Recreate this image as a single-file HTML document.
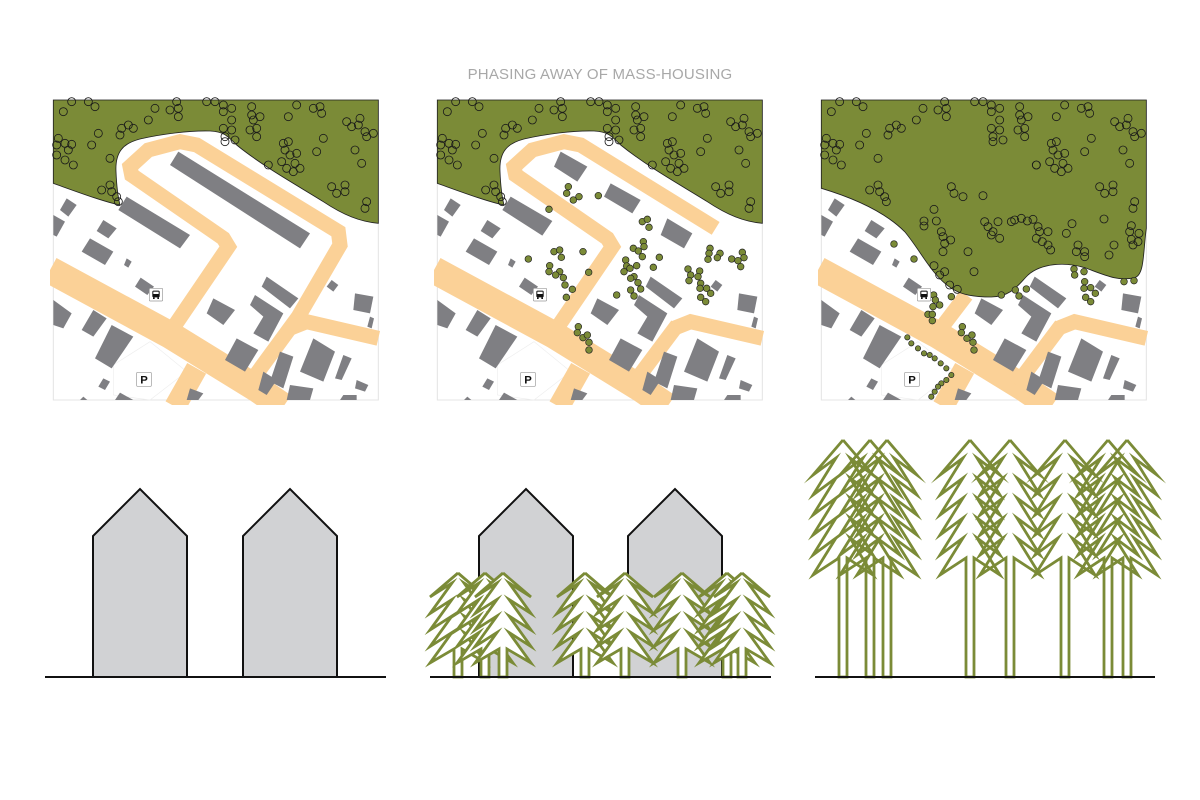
<!DOCTYPE html>
<html><head><meta charset="utf-8">
<style>
html,body{margin:0;padding:0;background:#fff;width:1200px;height:800px;overflow:hidden}
svg{position:absolute;left:0;top:0}
</style></head>
<body>
<svg id="root" width="1200" height="800" viewBox="0 0 1200 800" xmlns="http://www.w3.org/2000/svg">
<text x="600" y="79" text-anchor="middle" font-family="Liberation Sans, sans-serif" font-size="15" fill="#a8a8a8" letter-spacing="0.2">PHASING AWAY OF MASS-HOUSING</text>
<g id="maps"></g>
<g id="elev"></g>
</svg>
<script>
const G='#7b8b37',R='#fbd197',B='#7f7f83';
function pts(a){return a.map(p=>p.join(',')).join(' ');}
const bldCommon=[
[[50,310],[80,330],[55,365],[30,345]],
[[10,360],[45,380],[20,425],[10,420]],
[[160,375],[200,400],[175,430],[140,408]],
[[120,430],[190,470],[165,510],[95,470]],
[[230,490],[245,500],[235,518],[222,510]],
[[272,548],[312,575],[292,600],[255,575]],
[[10,615],[65,655],[40,700],[10,690]],
[[130,645],[170,670],[130,725],[95,705]],
[[185,690],[250,725],[185,820],[135,790]],
[[160,850],[180,860],[165,885],[145,875]],
[[210,893],[250,915],[195,915]],
[[100,905],[112,915],[90,915]],
[[490,610],[555,645],[520,690],[470,655]],
[[650,545],[745,610],[720,640],[635,575]],
[[615,600],[700,655],[655,740],[610,715],[640,665],[600,630]],
[[560,730],[625,765],[585,830],[525,795]],
[[640,830],[680,855],[650,900],[625,885]],
[[690,770],[730,785],[700,880],[660,860]],
[[790,730],[855,770],[820,860],[750,830]],
[[880,780],[905,790],[875,855],[855,850]],
[[845,555],[865,570],[850,590],[830,575]],
[[915,595],[970,605],[960,655],[910,645]],
[[960,665],[972,670],[965,700],[952,695]],
[[920,855],[955,870],[945,890],[915,880]],
[[720,870],[790,880],[780,915],[710,915]],
[[880,900],[920,900],[920,915],[870,915]],
[[420,880],[460,895],[445,915],[410,915]]];
const bld1=[[[385,170],[780,415],[750,460],[360,210]],[[230,305],[420,420],[390,460],[205,345]]];
const bld2=[[[380,170],[460,215],[430,260],[360,215]],[[530,265],[620,315],[595,355],[510,305]],[[700,370],[775,415],[750,460],[680,420]],[[230,305],[355,378],[325,422],[205,345]]];
const circ=[[40,50],[65,20],[115,20],[135,35],[315,40],[380,20],[385,40],[360,45],[385,65],[295,75],[215,100],[235,90],[250,100],[210,120],[145,115],[125,150],[180,190],[25,130],[20,150],[45,145],[65,148],[55,165],[20,180],[45,195],[70,210],[155,285],[180,270],[185,290],[200,305],[205,320],[470,20],[495,20],[520,30],[520,50],[545,40],[545,75],[520,100],[545,105],[525,125],[555,135],[525,140],[605,35],[605,60],[630,65],[610,75],[600,105],[620,100],[620,125],[715,65],[740,30],[790,40],[810,35],[815,55],[890,80],[905,95],[930,70],[925,90],[945,110],[950,125],[970,115],[820,130],[800,170],[700,145],[715,140],[705,165],[720,180],[740,175],[695,200],[710,220],[735,205],[730,230],[750,220],[915,165],[935,205],[655,210],[845,275],[860,295],[885,270],[885,290],[950,320],[945,340]];
const circ3=[[400,275],[408,295],[435,305],[495,302],[348,343],[318,378],[355,378],[318,393],[370,410],[375,425],[398,435],[380,445],[375,470],[450,470],[380,530],[348,512],[365,540],[395,570],[418,583],[468,530],[500,380],[510,395],[525,410],[540,380],[545,430],[520,420],[590,375],[610,370],[628,378],[645,373],[660,395],[665,410],[690,410],[655,430],[673,440],[690,450],[698,465],[745,415],[762,386],[858,372],[940,392],[935,410],[945,450],[960,440],[963,415],[940,433],[888,450],[873,480],[780,450],[775,470],[800,470],[800,485],[580,380],[655,210]];
const fill2=[[403,275],[398,295],[418,315],[435,305],[493,302],[345,343],[625,380],[640,373],[645,397],[628,440],[598,460],[613,468],[630,455],[625,485],[676,487],[658,517],[575,495],[578,513],[570,530],[588,520],[608,512],[600,545],[612,563],[590,550],[590,585],[620,582],[600,603],[548,600],[360,470],[377,465],[382,487],[447,470],[283,492],[347,512],[345,530],[377,530],[365,540],[388,548],[393,570],[415,583],[397,607],[464,532],[828,460],[825,475],[858,475],[850,488],[822,493],[893,492],[925,472],[930,488],[912,497],[920,515],[762,522],[797,528],[770,540],[792,545],[765,557],[800,565],[818,580],[798,580],[830,595],[800,607],[815,620],[433,695],[430,713],[447,728],[460,720],[465,742],[465,765]];
const fill3=[[228,447],[288,492],[347,600],[352,615],[365,630],[345,635],[330,658],[343,658],[343,677],[400,605],[550,600],[592,585],[625,582],[603,603],[768,522],[770,540],[798,530],[800,560],[818,578],[798,580],[832,595],[803,607],[818,620],[918,560],[948,557],[433,695],[430,713],[447,730],[462,720],[465,742],[468,765],[268,727],[280,745],[300,760],[318,775],[335,780],[350,790],[368,805],[385,820],[400,840],[385,855],[370,865],[360,875],[350,890],[340,905]];
const forest12='M10,15 L985,15 L985,385 C930,380 880,360 820,320 C740,270 640,215 560,150 C530,120 520,110 480,108 C420,106 330,118 270,132 C220,145 195,170 198,230 C200,280 205,310 210,330 C160,320 80,290 10,265 Z';
const forest3='M10,15 L985,15 L985,400 C975,470 980,540 950,548 C900,560 860,540 800,518 C740,500 670,505 630,540 C600,570 580,605 520,606 C470,606 430,600 400,580 C340,540 310,470 260,410 C200,350 110,310 10,280 Z';
function map(ox,variant){
 let s=`<svg x="${ox}" y="95" width="335" height="310" viewBox="0 0 1005 930">`;
 s+=`<rect x="10" y="15" width="975" height="900" fill="#fff" stroke="#e4e4e4" stroke-width="3"/>`;
 s+=`<polygon points="190,810 300,740 410,830 300,915 190,900" fill="none" stroke="#eee" stroke-width="2"/>`;
 const rs=`fill="none" stroke="${R}" stroke-linejoin="miter"`;
 s+=`<polyline points="0,525 360,720 620,880 700,935" ${rs} stroke-width="82"/>`;
 s+=`<polyline points="440,820 375,935" ${rs} stroke-width="65"/>`;
 if(variant==1) s+=`<polyline points="365,705 535,455 520,430 245,240 240,215 295,165 390,140 440,150 865,410 870,450 745,665 595,870" ${rs} stroke-width="45"/>`;
 if(variant==2) s+=`<polyline points="365,705 535,455 520,430 245,240 240,215 295,165 390,140 440,150 845,400" ${rs} stroke-width="45"/>`;
 if(variant>=2) s+=`<polyline points="595,870 730,690" ${rs} stroke-width="45"/>`;
 if(variant==3) s+=`<polyline points="365,705 445,600" ${rs} stroke-width="45"/>`;
 s+=`<polyline points="720,700 770,680 985,730" ${rs} stroke-width="45"/>`;
 let bl=bldCommon.concat(variant==1?bld1:variant==2?bld2:[]);
 bl.forEach(p=>s+=`<polygon points="${pts(p)}" fill="${B}"/>`);
 s+=`<path d="${variant==3?forest3:forest12}" fill="${G}" stroke="#222" stroke-width="2.5"/>`;
 let cs=variant==3?circ.concat(circ3):circ;
 cs.forEach(c=>s+=`<circle cx="${c[0]}" cy="${c[1]}" r="12" fill="none" stroke="#1a1a1a" stroke-width="2.5"/>`);
 let fs=variant==2?fill2:variant==3?fill3:[];
 fs.forEach(c=>s+=`<circle cx="${c[0]}" cy="${c[1]}" r="${c[1]>720&&variant==3&&c[0]<410?8:10}" fill="${G}" stroke="#222" stroke-width="2"/>`);
 s+=`<rect x="298" y="580" width="40" height="38" rx="3" fill="#fff" stroke="#999" stroke-width="2"/><rect x="307" y="587" width="22" height="20" rx="4" fill="#111"/><rect x="310" y="590" width="16" height="7" fill="#fff"/><rect x="309" y="607" width="5" height="5" fill="#111"/><rect x="322" y="607" width="5" height="5" fill="#111"/>`;
 s+=`<rect x="260" y="832" width="44" height="42" rx="3" fill="#fff" stroke="#999" stroke-width="2"/><text x="282" y="866" text-anchor="middle" font-family="Liberation Sans, sans-serif" font-weight="bold" font-size="34" fill="#111">P</text>`;
 return s+'</svg>';
}
document.getElementById('maps').innerHTML=map(50,1)+map(434,2)+map(818,3);
function tree(cx,ay,t0,d,n,W,inn,tr,bot,fill){
 let L=[[cx,ay]];
 for(let k=0;k<n;k++){let ty=ay+t0+k*d;L.push([cx-W,ty]);L.push([cx-(k==n-1?tr:inn),ty-d*0.85]);}
 L.push([cx-tr,bot]);
 let right=L.slice(1).map(p=>[2*cx-p[0],p[1]]).reverse();
 let all=L.concat(right);
 all.push([cx,ay]);
 return `<polygon points="${pts(all)}" fill="${fill}" stroke="none"/><polyline points="${pts(all)}" fill="none" stroke="${G}" stroke-width="2.8" stroke-linejoin="miter" stroke-miterlimit="10"/>`;
}
let e='';
function house(x){return `<polygon points="${x},677 ${x},536 ${x+47},489 ${x+94},536 ${x+94},677" fill="#d1d2d4" stroke="#111" stroke-width="2"/>`;}
e+=house(93)+house(243)+house(479)+house(628);
[458,485,503,585,625,682,727,742].forEach(x=>e+=tree(x,573,24,16.5,5,28,6,4,677,'#fff'));
[843,870,887,970,1010,1065,1108,1127].forEach(x=>e+=tree(x,440,35,20,6,30,7,4,677,'none'));
e+=`<line x1="45" y1="677" x2="386" y2="677" stroke="#111" stroke-width="2"/>`;
e+=`<line x1="430" y1="677" x2="771" y2="677" stroke="#111" stroke-width="2"/>`;
e+=`<line x1="815" y1="677" x2="1155" y2="677" stroke="#111" stroke-width="2"/>`;
document.getElementById('elev').innerHTML=e;
</script>
</body></html>
